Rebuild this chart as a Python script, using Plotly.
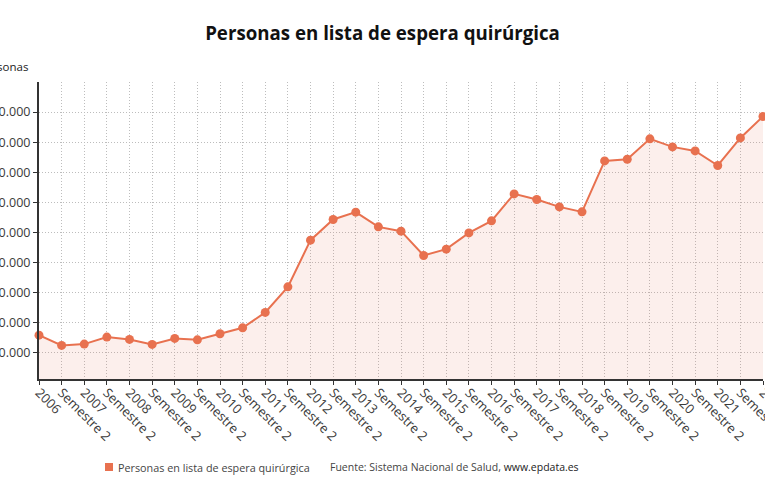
import plotly.graph_objects as go

# ---- data ----
periods = [
    "2006-1", "2006-2", "2007-1", "2007-2", "2008-1", "2008-2", "2009-1", "2009-2",
    "2010-1", "2010-2", "2011-1", "2011-2", "2012-1", "2012-2", "2013-1", "2013-2",
    "2014-1", "2014-2", "2015-1", "2015-2", "2016-1", "2016-2", "2017-1", "2017-2",
    "2018-1", "2018-2", "2019-1", "2019-2", "2020-1", "2020-2", "2021-1", "2021-2",
    "2022-1",
]
tick_labels = [
    "2006", "Semestre 2", "2007", "Semestre 2", "2008", "Semestre 2", "2009", "Semestre 2",
    "2010", "Semestre 2", "2011", "Semestre 2", "2012", "Semestre 2", "2013", "Semestre 2",
    "2014", "Semestre 2", "2015", "Semestre 2", "2016", "Semestre 2", "2017", "Semestre 2",
    "2018", "Semestre 2", "2019", "Semestre 2", "2020", "Semestre 2", "2021", "Semestre 2",
    "2022",
]
personas = [
    379400, 362300, 364500, 376100, 372300, 364000, 373900, 371600,
    381600, 391500, 417100, 459600, 537200, 571600, 583700, 559300,
    552100, 511800, 522300, 549300, 569300, 614100, 604800, 592500,
    584200, 668900, 671700, 705500, 692200, 685500, 661300, 707100,
    742700,
]
y_ticks = [350000, 400000, 450000, 500000, 550000, 600000, 650000, 700000, 750000]

series_name = "Personas en lista de espera quirúrgica"
source_text = "Fuente: Sistema Nacional de Salud, <span style='color:#222'>www.epdata.es</span>"

# ---- layout geometry ----
W, H = 765, 500
L, R, T, B = 39, 2, 82, 121
PW, PH = W - L - R, H - T - B


def px_x(x):
    return (x - L) / PW


def px_y(y):
    return (H - B - y) / PH


COLOR = "#e8714f"
FONT = "Open Sans"
GRID_DASH = "1px,2px"

fig = go.Figure()
fig.add_trace(go.Scatter(
    x=periods, y=personas, mode="lines+markers", name=series_name,
    line=dict(color=COLOR, width=2),
    marker=dict(color=COLOR, size=9),
    fill="tozeroy", fillcolor="rgba(232,113,79,0.11)",
    cliponaxis=False, showlegend=False,
))

fig.update_layout(
    width=W, height=H,
    margin=dict(l=L, r=R, t=T, b=B, pad=0),
    template="none",
    paper_bgcolor="white", plot_bgcolor="white",
    separators=",.",
    font=dict(family=FONT, size=12, color="#444"),
    title=dict(
        text="<b>Personas en lista de espera quirúrgica</b>",
        x=0.5, xref="container", xanchor="center",
        y=1 - 33 / H, yref="container", yanchor="middle",
        font=dict(family=FONT, size=18.7, color="#111"),
    ),
    xaxis=dict(
        type="category", categoryorder="array", categoryarray=periods,
        range=[0, len(periods) - 1],
        tickmode="array", tickvals=periods, ticktext=tick_labels,
        tickangle=45, automargin=False,
        tickfont=dict(family=FONT, size=13, color="#3a3a3a"),
        showgrid=True, gridcolor="#bdbdbd", griddash=GRID_DASH, gridwidth=1,
        showline=True, linecolor="#333", linewidth=2,
        ticks="outside", ticklen=4, tickcolor="#333", tickwidth=1,
        ticklabelstandoff=-5,
        zeroline=False,
    ),
    yaxis=dict(
        range=[306500, 800000],
        tickmode="array", tickvals=y_ticks, tickformat=",d",
        automargin=False,
        tickfont=dict(family=FONT, size=12.5, color="#3a3a3a"),
        showgrid=True, gridcolor="#bdbdbd", griddash=GRID_DASH, gridwidth=1,
        showline=True, linecolor="#333", linewidth=2,
        ticks="outside", ticklen=4, tickcolor="#333", tickwidth=1,
        zeroline=False,
    ),
    shapes=[dict(
        type="rect", xref="paper", yref="paper",
        x0=px_x(105), x1=px_x(113), y0=px_y(471), y1=px_y(463),
        fillcolor=COLOR, line=dict(width=0),
    )],
    annotations=[
        dict(text="Personas", xref="paper", yref="paper",
             x=px_x(30), y=px_y(66), xanchor="right", yanchor="middle",
             showarrow=False, font=dict(family=FONT, size=11.5, color="#222")),
        dict(text=series_name, xref="paper", yref="paper",
             x=px_x(116), y=px_y(467), xanchor="left", yanchor="middle",
             showarrow=False, font=dict(family=FONT, size=10.8, color="#444")),
        dict(text=source_text, xref="paper", yref="paper",
             x=px_x(328), y=px_y(467), xanchor="left", yanchor="middle",
             showarrow=False, font=dict(family=FONT, size=10.5, color="#444")),
    ],
)

fig.write_html(
    "out.html",
    config={"displayModeBar": False},
    post_script="document.body.style.margin='0';document.body.style.padding='0';",
)
